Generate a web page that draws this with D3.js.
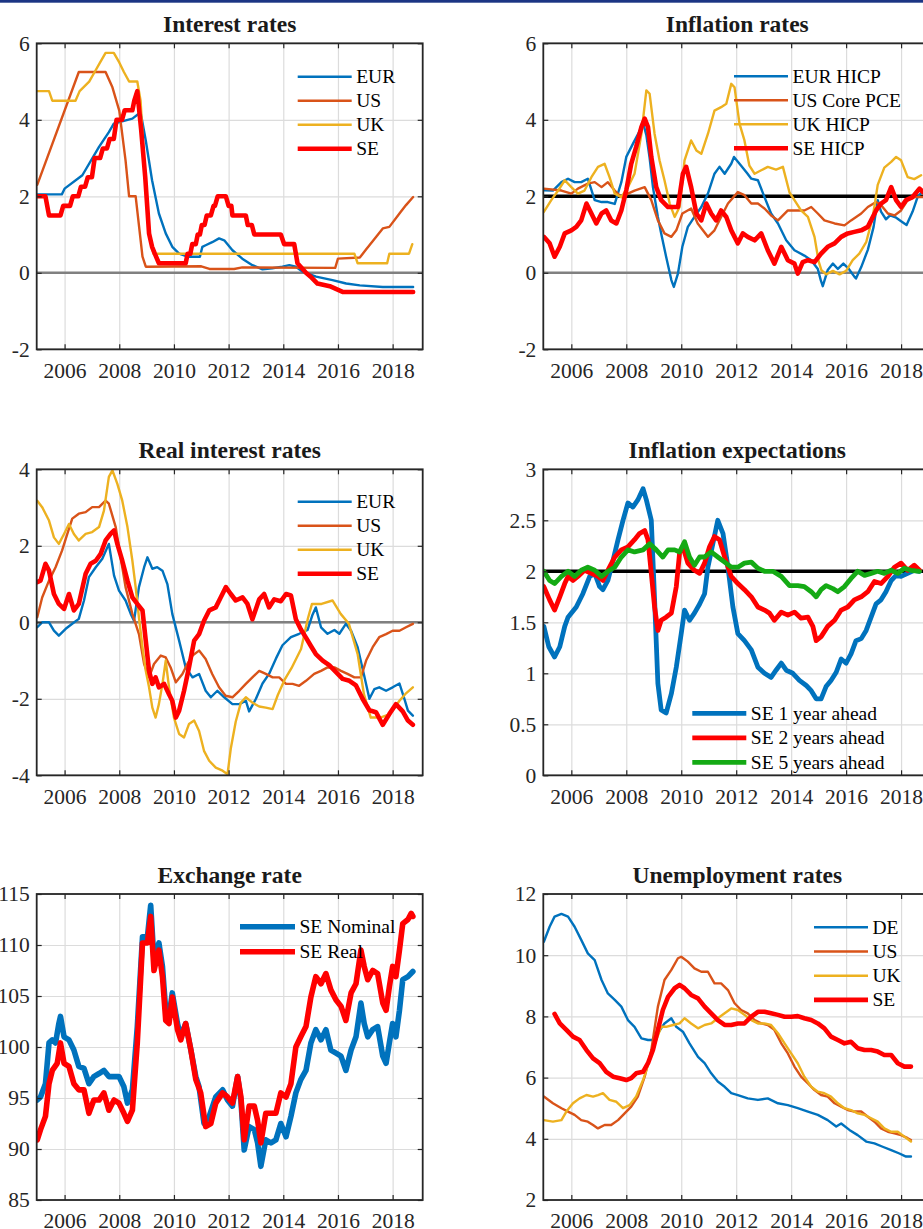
<!DOCTYPE html>
<html>
<head>
<meta charset="utf-8">
<script src="https://cdn.jsdelivr.net/npm/d3@7"></script>
<style>
  body { margin: 0; background: #fff; }
  svg { display: block; }
</style>
</head>
<body>
<svg id="chart" width="923" height="1229"></svg>
<script>
// ---- tick labels ----
var yearTicks = [2006, 2008, 2010, 2012, 2014, 2016, 2018];
var rateTicks = [-2, 0, 2, 4, 6];
var realTicks = [-4, -2, 0, 2, 4];
var expTicks = [0, 0.5, 1, 1.5, 2, 2.5, 3];
var fxTicks = [85, 90, 95, 100, 105, 110, 115];
var unTicks = [2, 4, 6, 8, 10, 12];

// ---- Interest rates ----
var irEUR = [[2005.0,2.05],[2005.9,2.05],[2006.0,2.2],[2006.65,2.55],[2007.26,3.29],[2007.62,3.68],[2007.8,3.9],[2008.0,3.94],[2008.48,4.03],[2008.7,4.15],[2008.78,4.2],[2008.97,3.46],[2009.2,2.42],[2009.45,1.55],[2009.7,1.03],[2009.94,0.68],[2010.19,0.5],[2010.5,0.42],[2010.95,0.42],[2011.04,0.68],[2011.16,0.72],[2011.4,0.8],[2011.65,0.9],[2011.84,0.85],[2012.14,0.59],[2012.5,0.37],[2012.87,0.2],[2013.24,0.09],[2013.6,0.12],[2013.97,0.16],[2014.22,0.2],[2014.46,0.16],[2014.7,0.03],[2015.2,-0.1],[2015.8,-0.19],[2016.3,-0.28],[2016.8,-0.33],[2017.64,-0.37],[2018.75,-0.37]];
var irUS = [[2005.0,2.3],[2006.52,5.25],[2007.5,5.25],[2007.75,4.85],[2008.0,4.24],[2008.23,2.94],[2008.36,2.0],[2008.6,2.0],[2008.85,0.42],[2008.97,0.16],[2011.0,0.17],[2011.3,0.1],[2012.2,0.1],[2012.5,0.14],[2015.9,0.13],[2016.0,0.37],[2016.8,0.4],[2017.02,0.6],[2017.4,0.94],[2017.64,1.16],[2017.88,1.2],[2018.25,1.55],[2018.49,1.77],[2018.75,1.98]];
var irUK = [[2005.0,4.75],[2005.43,4.75],[2005.55,4.5],[2006.4,4.5],[2006.55,4.75],[2006.9,5.0],[2007.1,5.25],[2007.3,5.5],[2007.5,5.75],[2007.8,5.75],[2008.0,5.5],[2008.17,5.25],[2008.36,5.0],[2008.66,5.0],[2008.78,4.5],[2008.9,3.0],[2009.0,2.0],[2009.1,1.0],[2009.25,0.5],[2016.6,0.5],[2016.72,0.25],[2017.8,0.25],[2017.88,0.5],[2018.6,0.5],[2018.72,0.75]];
var irSE = [[2005.0,2.0],[2005.3,2.0],[2005.43,1.5],[2005.85,1.5],[2005.95,1.75],[2006.2,1.75],[2006.3,2.0],[2006.5,2.0],[2006.6,2.25],[2006.75,2.25],[2006.85,2.5],[2007.0,2.5],[2007.1,3.0],[2007.3,3.0],[2007.4,3.25],[2007.55,3.25],[2007.65,3.5],[2007.8,3.5],[2007.9,4.0],[2008.1,4.0],[2008.2,4.25],[2008.48,4.25],[2008.55,4.5],[2008.66,4.75],[2008.8,3.75],[2008.95,2.5],[2009.09,1.03],[2009.2,0.68],[2009.3,0.5],[2009.45,0.25],[2010.43,0.25],[2010.5,0.5],[2010.6,0.5],[2010.67,0.75],[2010.8,0.75],[2010.87,1.0],[2010.95,1.0],[2011.02,1.25],[2011.12,1.25],[2011.2,1.5],[2011.35,1.5],[2011.45,1.75],[2011.5,1.75],[2011.6,2.0],[2011.9,2.0],[2012.0,1.75],[2012.1,1.75],[2012.14,1.5],[2012.63,1.5],[2012.7,1.25],[2012.85,1.25],[2012.94,1.0],[2013.91,1.0],[2014.03,0.75],[2014.4,0.75],[2014.52,0.25],[2014.83,0.0],[2015.0,-0.1],[2015.25,-0.28],[2015.7,-0.35],[2016.17,-0.5],[2018.75,-0.5]];

// ---- Inflation rates ----
var infEUR = [[2005.0,2.16],[2005.33,2.15],[2005.64,2.37],[2005.88,2.46],[2006.12,2.37],[2006.36,2.37],[2006.6,2.46],[2006.85,1.9],[2007.1,1.85],[2007.33,1.85],[2007.58,1.8],[2007.82,2.37],[2008.0,3.03],[2008.24,3.37],[2008.48,3.7],[2008.6,3.95],[2008.73,3.6],[2008.85,3.0],[2008.97,2.24],[2009.15,1.46],[2009.27,1.03],[2009.45,0.42],[2009.64,-0.19],[2009.73,-0.37],[2009.88,-0.02],[2010.04,0.68],[2010.24,1.2],[2010.48,1.46],[2010.73,1.72],[2010.97,2.07],[2011.21,2.59],[2011.39,2.77],[2011.58,2.59],[2011.82,2.85],[2011.92,3.03],[2012.18,2.8],[2012.4,2.6],[2012.55,2.46],[2012.79,2.42],[2013.03,1.98],[2013.27,1.55],[2013.52,1.29],[2013.82,0.85],[2014.12,0.59],[2014.48,0.45],[2014.73,0.33],[2014.97,0.1],[2015.08,-0.2],[2015.15,-0.35],[2015.33,0.07],[2015.52,0.24],[2015.7,0.1],[2015.9,0.24],[2016.1,0.1],[2016.3,-0.1],[2016.36,-0.15],[2016.55,0.15],[2016.79,0.6],[2017.0,1.2],[2017.15,1.9],[2017.27,1.6],[2017.45,1.4],[2017.6,1.5],[2017.8,1.45],[2018.0,1.35],[2018.2,1.25],[2018.42,1.6],[2018.6,1.98],[2018.8,2.15]];
var infUS = [[2005.0,2.2],[2005.64,2.15],[2006.0,2.07],[2006.24,2.2],[2006.6,2.33],[2006.85,2.37],[2007.1,2.24],[2007.33,2.37],[2007.58,2.15],[2007.82,1.98],[2008.06,2.07],[2008.3,2.15],[2008.67,2.24],[2008.91,1.9],[2009.15,1.37],[2009.39,1.03],[2009.64,0.94],[2009.82,1.11],[2010.04,1.55],[2010.36,1.68],[2010.6,1.29],[2010.97,0.94],[2011.21,1.11],[2011.45,1.46],[2011.7,1.81],[2012.06,2.11],[2012.3,2.03],[2012.55,1.81],[2012.79,1.81],[2013.03,1.68],[2013.27,1.5],[2013.52,1.37],[2013.88,1.63],[2014.12,1.63],[2014.48,1.63],[2014.73,1.72],[2014.97,1.55],[2015.21,1.37],[2015.58,1.29],[2015.94,1.24],[2016.18,1.37],[2016.55,1.55],[2016.79,1.72],[2017.09,1.85],[2017.27,1.77],[2017.52,1.55],[2017.76,1.5],[2018.0,1.63],[2018.24,1.9],[2018.48,1.98],[2018.8,1.98]];
var infUK = [[2005.0,1.59],[2005.27,1.9],[2005.52,2.15],[2005.76,2.42],[2006.0,2.24],[2006.24,2.07],[2006.48,2.15],[2006.73,2.5],[2006.97,2.77],[2007.21,2.85],[2007.39,2.5],[2007.58,2.07],[2007.82,1.98],[2008.06,2.24],[2008.3,2.59],[2008.55,3.63],[2008.73,4.77],[2008.85,4.68],[2009.03,3.63],[2009.21,2.94],[2009.39,2.42],[2009.58,1.81],[2009.76,1.46],[2009.94,1.72],[2010.12,2.94],[2010.36,3.46],[2010.55,3.2],[2010.73,3.11],[2010.97,3.63],[2011.21,4.24],[2011.45,4.33],[2011.64,4.42],[2011.82,4.94],[2011.94,4.85],[2012.12,3.9],[2012.3,3.46],[2012.48,2.8],[2012.67,2.59],[2012.91,2.68],[2013.15,2.77],[2013.45,2.7],[2013.7,2.77],[2013.94,2.1],[2014.12,1.9],[2014.36,1.63],[2014.61,1.46],[2014.85,0.94],[2015.0,0.3],[2015.1,0.07],[2015.27,-0.04],[2015.52,0.05],[2015.76,-0.04],[2016.0,0.05],[2016.24,0.33],[2016.48,0.5],[2016.73,0.8],[2016.97,1.46],[2017.15,2.3],[2017.39,2.75],[2017.64,2.9],[2017.82,3.03],[2018.0,2.94],[2018.24,2.5],[2018.48,2.45],[2018.73,2.55]];
var infSE = [[2005.0,0.94],[2005.21,0.77],[2005.39,0.42],[2005.58,0.68],[2005.76,1.03],[2006.0,1.11],[2006.18,1.2],[2006.36,1.37],[2006.55,1.81],[2006.73,1.55],[2006.91,1.29],[2007.1,1.55],[2007.27,1.63],[2007.45,1.37],[2007.64,1.29],[2007.82,1.63],[2008.0,2.16],[2008.18,2.85],[2008.36,3.29],[2008.55,3.81],[2008.67,4.03],[2008.79,3.81],[2008.91,3.03],[2009.09,2.24],[2009.27,1.9],[2009.52,1.72],[2009.88,1.72],[2010.06,2.59],[2010.18,2.77],[2010.36,2.24],[2010.55,1.55],[2010.73,1.37],[2010.91,1.81],[2011.09,1.55],[2011.27,1.37],[2011.45,1.63],[2011.64,1.46],[2011.82,1.11],[2012.06,0.77],[2012.24,1.03],[2012.42,0.94],[2012.67,0.85],[2012.91,1.03],[2013.15,0.59],[2013.39,0.24],[2013.64,0.68],[2013.88,0.33],[2014.12,0.24],[2014.24,-0.02],[2014.42,0.28],[2014.61,0.33],[2014.85,0.28],[2015.09,0.5],[2015.33,0.68],[2015.58,0.77],[2015.82,0.94],[2016.06,1.03],[2016.3,1.07],[2016.55,1.11],[2016.79,1.2],[2017.09,1.63],[2017.27,1.81],[2017.45,1.9],[2017.64,2.24],[2017.82,1.9],[2018.0,1.72],[2018.18,1.9],[2018.42,1.98],[2018.67,2.2],[2018.8,2.11]];

// ---- Real interest rates ----
var riEUR = [[2005.0,-0.13],[2005.18,0],[2005.43,0],[2005.61,-0.22],[2005.79,-0.35],[2006.04,-0.17],[2006.28,-0.04],[2006.52,0.09],[2006.71,0.57],[2006.89,1.18],[2007.14,1.44],[2007.38,1.66],[2007.62,2.05],[2007.81,1.22],[2007.99,0.83],[2008.23,0.57],[2008.42,0.22],[2008.54,0.04],[2008.72,0.92],[2008.91,1.44],[2009.03,1.7],[2009.21,1.4],[2009.39,1.44],[2009.58,1.35],[2009.76,1.0],[2009.94,0.22],[2010.19,-0.48],[2010.43,-1.18],[2010.68,-1.44],[2010.92,-1.35],[2011.16,-1.79],[2011.35,-1.96],[2011.59,-1.79],[2011.84,-1.96],[2012.14,-2.14],[2012.39,-2.14],[2012.63,-2.05],[2012.75,-2.33],[2013.0,-2.0],[2013.24,-1.6],[2013.48,-1.35],[2013.73,-0.95],[2013.97,-0.6],[2014.28,-0.39],[2014.58,-0.3],[2014.89,-0.2],[2015.07,0.2],[2015.19,0.39],[2015.38,-0.13],[2015.62,-0.3],[2015.87,-0.2],[2016.05,-0.3],[2016.29,-0.04],[2016.48,-0.22],[2016.72,-0.65],[2016.96,-1.4],[2017.15,-2.0],[2017.33,-1.75],[2017.51,-1.7],[2017.76,-1.79],[2018.0,-1.7],[2018.25,-1.6],[2018.43,-2.0],[2018.56,-2.31],[2018.74,-2.44]];
var riUS = [[2005.0,0.13],[2005.18,0.65],[2005.43,1.09],[2005.67,1.44],[2005.91,1.88],[2006.1,2.31],[2006.28,2.71],[2006.52,2.84],[2006.77,2.88],[2007.01,3.01],[2007.26,3.01],[2007.5,3.18],[2007.62,3.1],[2007.87,2.49],[2008.05,1.7],[2008.23,0.92],[2008.48,0.22],[2008.72,-0.31],[2008.91,-1.09],[2009.09,-1.44],[2009.27,-1.09],[2009.52,-0.87],[2009.7,-0.92],[2009.88,-1.18],[2010.07,-1.57],[2010.31,-1.35],[2010.49,-1.09],[2010.68,-0.87],[2010.92,-0.74],[2011.16,-0.96],[2011.4,-1.35],[2011.65,-1.7],[2011.89,-1.92],[2012.14,-1.96],[2012.39,-1.79],[2012.63,-1.61],[2012.87,-1.44],[2013.12,-1.27],[2013.36,-1.35],[2013.61,-1.44],[2013.85,-1.44],[2014.1,-1.61],[2014.34,-1.61],[2014.58,-1.66],[2014.83,-1.53],[2015.13,-1.35],[2015.38,-1.27],[2015.62,-1.18],[2015.87,-1.18],[2016.11,-1.27],[2016.35,-1.35],[2016.6,-1.44],[2016.84,-1.44],[2017.03,-1.0],[2017.27,-0.65],[2017.51,-0.39],[2017.76,-0.31],[2018.0,-0.22],[2018.25,-0.22],[2018.49,-0.13],[2018.74,-0.04]];
var riUK = [[2005.0,3.18],[2005.18,3.01],[2005.43,2.66],[2005.61,2.22],[2005.79,2.05],[2005.98,2.31],[2006.16,2.57],[2006.34,2.31],[2006.52,2.14],[2006.77,2.31],[2007.01,2.36],[2007.26,2.49],[2007.44,2.92],[2007.62,3.8],[2007.75,3.97],[2007.93,3.62],[2008.11,3.18],[2008.3,2.49],[2008.48,1.61],[2008.6,0.92],[2008.72,0.13],[2008.85,-0.65],[2008.97,-1.27],[2009.09,-1.7],[2009.21,-2.23],[2009.33,-2.49],[2009.45,-2.14],[2009.58,-1.61],[2009.7,-1.0],[2009.82,-1.7],[2010.0,-2.49],[2010.19,-2.92],[2010.37,-3.01],[2010.55,-2.66],[2010.74,-2.57],[2010.92,-2.84],[2011.1,-3.36],[2011.29,-3.62],[2011.53,-3.8],[2011.78,-3.88],[2011.96,-3.97],[2012.08,-3.3],[2012.26,-2.6],[2012.45,-2.1],[2012.63,-1.96],[2012.87,-2.1],[2013.12,-2.2],[2013.36,-2.23],[2013.61,-2.27],[2013.8,-1.9],[2014.05,-1.5],[2014.3,-1.2],[2014.65,-0.7],[2014.9,0.1],[2015.05,0.48],[2015.4,0.48],[2015.8,0.57],[2016.1,0.22],[2016.4,-0.04],[2016.72,-0.83],[2016.95,-1.88],[2017.2,-2.49],[2017.55,-2.49],[2017.9,-2.4],[2018.25,-2.05],[2018.5,-1.85],[2018.74,-1.7]];
var riSE = [[2005.0,1.05],[2005.12,1.09],[2005.3,1.53],[2005.43,1.35],[2005.61,0.74],[2005.79,0.48],[2005.98,0.35],[2006.16,0.74],[2006.34,0.31],[2006.52,0.48],[2006.77,1.27],[2006.95,1.53],[2007.14,1.61],[2007.32,1.79],[2007.5,2.14],[2007.68,2.31],[2007.81,2.4],[2007.93,2.05],[2008.11,1.61],[2008.3,1.09],[2008.48,0.65],[2008.66,0.48],[2008.85,0.31],[2008.97,-0.48],[2009.09,-1.27],[2009.21,-1.61],[2009.33,-1.44],[2009.45,-1.7],[2009.64,-1.61],[2009.82,-1.88],[2009.94,-2.05],[2010.07,-2.49],[2010.19,-2.31],[2010.37,-1.79],[2010.55,-1.18],[2010.74,-0.48],[2010.92,-0.31],[2011.1,0.04],[2011.29,0.31],[2011.53,0.39],[2011.71,0.65],[2011.9,0.92],[2012.08,0.74],[2012.26,0.57],[2012.51,0.65],[2012.69,0.48],[2012.87,0.08],[2013.12,0.6],[2013.3,0.74],[2013.48,0.39],[2013.67,0.6],[2013.91,0.55],[2014.1,0.74],[2014.28,0.7],[2014.46,0.08],[2014.64,-0.18],[2014.83,-0.4],[2015.01,-0.62],[2015.19,-0.83],[2015.44,-1.0],[2015.68,-1.12],[2015.93,-1.3],[2016.17,-1.48],[2016.42,-1.53],[2016.66,-1.65],[2016.9,-2.0],[2017.15,-2.3],[2017.39,-2.35],[2017.64,-2.68],[2017.88,-2.4],[2018.12,-2.14],[2018.37,-2.33],[2018.56,-2.57],[2018.74,-2.68]];

// ---- Inflation expectations ----
var exp1 = [[2005.0,1.46],[2005.18,1.26],[2005.39,1.16],[2005.58,1.26],[2005.76,1.46],[2005.88,1.55],[2006.18,1.65],[2006.42,1.78],[2006.67,1.95],[2006.85,1.98],[2007.03,1.85],[2007.15,1.82],[2007.33,1.91],[2007.52,2.11],[2007.7,2.31],[2007.88,2.5],[2008.06,2.67],[2008.24,2.63],[2008.42,2.7],[2008.61,2.81],[2008.73,2.7],[2008.91,2.5],[2009.03,1.72],[2009.15,0.9],[2009.27,0.64],[2009.45,0.61],[2009.64,0.8],[2009.82,1.06],[2010.0,1.39],[2010.12,1.62],[2010.3,1.52],[2010.48,1.59],[2010.67,1.68],[2010.85,1.78],[2010.97,2.04],[2011.15,2.27],[2011.33,2.5],[2011.52,2.37],[2011.7,2.04],[2011.88,1.65],[2012.06,1.39],[2012.3,1.32],[2012.55,1.23],[2012.79,1.06],[2013.03,1.0],[2013.27,0.96],[2013.45,1.03],[2013.64,1.1],[2013.82,1.03],[2014.06,1.0],[2014.3,0.93],[2014.55,0.88],[2014.73,0.83],[2014.91,0.75],[2015.09,0.75],[2015.27,0.87],[2015.45,0.93],[2015.64,1.01],[2015.82,1.14],[2016.0,1.1],[2016.18,1.19],[2016.36,1.32],[2016.55,1.34],[2016.73,1.42],[2016.91,1.55],[2017.09,1.68],[2017.27,1.72],[2017.45,1.8],[2017.64,1.91],[2017.82,1.96],[2018.0,1.95],[2018.24,1.98],[2018.48,2.01],[2018.67,2.0]];
var exp2 = [[2005.0,1.85],[2005.21,1.72],[2005.39,1.62],[2005.58,1.75],[2005.76,1.88],[2005.88,1.95],[2006.06,1.91],[2006.24,1.95],[2006.48,2.01],[2006.73,1.98],[2006.97,1.95],[2007.15,1.91],[2007.33,2.01],[2007.58,2.14],[2007.82,2.21],[2008.06,2.24],[2008.3,2.31],[2008.48,2.37],[2008.67,2.4],[2008.79,2.31],[2008.91,1.98],[2009.03,1.65],[2009.15,1.42],[2009.27,1.52],[2009.45,1.55],[2009.64,1.59],[2009.82,1.85],[2009.94,2.18],[2010.06,2.24],[2010.24,2.08],[2010.48,2.01],[2010.67,1.98],[2010.85,2.08],[2011.03,2.24],[2011.21,2.34],[2011.39,2.31],[2011.58,2.14],[2011.82,1.95],[2012.06,1.88],[2012.3,1.82],[2012.55,1.75],[2012.79,1.65],[2013.03,1.62],[2013.21,1.59],[2013.39,1.52],[2013.64,1.6],[2013.88,1.57],[2014.12,1.6],[2014.36,1.54],[2014.61,1.55],[2014.79,1.46],[2014.91,1.32],[2015.09,1.36],[2015.33,1.46],[2015.58,1.52],[2015.82,1.62],[2016.06,1.65],[2016.3,1.72],[2016.55,1.75],[2016.79,1.8],[2017.03,1.9],[2017.27,1.88],[2017.52,1.95],[2017.76,2.04],[2018.0,2.08],[2018.24,2.01],[2018.48,2.06],[2018.67,2.01]];
var exp5 = [[2005.0,2.0],[2005.21,1.91],[2005.39,1.88],[2005.64,1.95],[2005.88,2.0],[2006.12,1.95],[2006.36,2.01],[2006.6,2.04],[2006.85,2.01],[2007.1,1.95],[2007.33,2.0],[2007.58,2.04],[2007.82,2.14],[2008.06,2.21],[2008.3,2.19],[2008.61,2.21],[2008.85,2.27],[2009.09,2.21],[2009.33,2.14],[2009.52,2.21],[2009.76,2.21],[2009.94,2.19],[2010.12,2.29],[2010.3,2.14],[2010.48,2.06],[2010.67,2.14],[2010.85,2.14],[2011.09,2.19],[2011.33,2.14],[2011.58,2.09],[2011.82,2.04],[2012.06,2.04],[2012.3,2.08],[2012.55,2.09],[2012.79,2.03],[2013.03,2.0],[2013.33,2.0],[2013.64,1.95],[2013.94,1.86],[2014.24,1.86],[2014.48,1.85],[2014.73,1.8],[2014.91,1.75],[2015.09,1.82],[2015.27,1.86],[2015.52,1.83],[2015.7,1.8],[2015.94,1.85],[2016.18,1.93],[2016.42,2.0],[2016.67,1.96],[2016.91,1.98],[2017.15,2.0],[2017.39,1.98],[2017.64,2.01],[2017.88,1.98],[2018.12,2.03],[2018.36,2.01],[2018.67,2.0]];

// ---- Exchange rate ----
var fxNominal = [[2005.0,94.8],[2005.12,95.1],[2005.3,96.4],[2005.43,100.4],[2005.55,100.7],[2005.67,100.4],[2005.79,102.3],[2005.85,103.0],[2005.98,101.0],[2006.16,100.7],[2006.34,99.7],[2006.52,98.1],[2006.71,97.9],[2006.89,96.4],[2007.07,97.1],[2007.26,97.4],[2007.44,97.7],[2007.62,97.1],[2007.81,97.1],[2007.99,97.1],[2008.17,96.1],[2008.3,94.5],[2008.48,95.8],[2008.66,102.0],[2008.85,110.8],[2009.03,110.8],[2009.15,113.9],[2009.27,108.5],[2009.45,110.2],[2009.58,107.9],[2009.7,103.6],[2009.82,103.0],[2009.94,105.3],[2010.13,102.3],[2010.25,101.0],[2010.43,102.3],[2010.62,99.7],[2010.8,97.1],[2010.92,96.1],[2011.1,92.5],[2011.29,93.2],[2011.53,95.1],[2011.78,95.8],[2011.96,94.8],[2012.14,94.2],[2012.33,97.1],[2012.45,94.8],[2012.57,89.9],[2012.75,92.2],[2012.94,91.9],[2013.06,90.6],[2013.18,88.3],[2013.36,90.9],[2013.55,90.6],[2013.73,90.9],[2013.91,92.5],[2014.1,91.2],[2014.28,93.2],[2014.46,95.5],[2014.64,96.8],[2014.83,97.7],[2015.01,100.4],[2015.19,101.7],[2015.38,100.7],[2015.56,101.7],[2015.74,99.7],[2015.93,99.4],[2016.11,99.1],[2016.29,97.7],[2016.48,99.7],[2016.66,101.0],[2016.84,104.3],[2016.96,102.3],[2017.09,101.0],[2017.27,101.7],[2017.45,102.0],[2017.64,99.1],[2017.76,98.4],[2017.88,100.4],[2018.0,102.3],[2018.12,101.0],[2018.25,103.6],[2018.37,106.6],[2018.56,106.9],[2018.74,107.4]];
var fxReal = [[2005.0,90.9],[2005.12,91.9],[2005.3,93.2],[2005.43,96.4],[2005.55,97.7],[2005.73,98.4],[2005.85,100.4],[2005.98,98.4],[2006.16,98.1],[2006.34,96.4],[2006.52,95.8],[2006.71,95.8],[2006.89,93.5],[2007.07,94.8],[2007.26,94.8],[2007.44,95.5],[2007.62,93.8],[2007.81,94.8],[2007.99,94.5],[2008.17,93.5],[2008.3,92.7],[2008.48,93.8],[2008.66,100.4],[2008.85,110.2],[2009.03,110.2],[2009.15,112.8],[2009.27,107.5],[2009.45,109.5],[2009.58,106.9],[2009.7,102.6],[2009.82,102.3],[2009.94,104.9],[2010.13,101.7],[2010.25,100.7],[2010.43,102.3],[2010.62,99.7],[2010.8,96.8],[2010.98,95.5],[2011.16,92.2],[2011.35,92.5],[2011.53,94.5],[2011.78,95.5],[2011.96,95.1],[2012.14,94.5],[2012.33,97.1],[2012.45,95.1],[2012.57,90.9],[2012.75,94.2],[2012.94,94.2],[2013.06,92.8],[2013.18,90.6],[2013.36,93.5],[2013.55,93.5],[2013.73,93.5],[2013.91,95.5],[2014.1,95.1],[2014.28,96.4],[2014.46,100.0],[2014.64,101.0],[2014.83,102.0],[2015.01,104.9],[2015.19,106.9],[2015.38,106.2],[2015.56,107.2],[2015.74,105.6],[2015.93,104.6],[2016.11,104.0],[2016.29,102.6],[2016.48,105.3],[2016.66,106.2],[2016.84,109.5],[2016.96,107.9],[2017.09,106.6],[2017.27,107.5],[2017.45,107.2],[2017.64,104.3],[2017.76,103.6],[2017.88,105.9],[2018.0,107.9],[2018.12,106.9],[2018.25,109.5],[2018.37,112.1],[2018.56,112.5],[2018.68,113.1],[2018.74,112.8]];

// ---- Unemployment rates ----
var unDE = [[2005.0,10.44],[2005.21,10.93],[2005.39,11.26],[2005.64,11.35],[2005.88,11.26],[2006.12,10.93],[2006.36,10.5],[2006.6,10.06],[2006.85,9.84],[2007.1,9.19],[2007.33,8.75],[2007.58,8.54],[2007.82,8.32],[2008.06,7.88],[2008.3,7.66],[2008.55,7.28],[2008.79,7.23],[2008.97,7.23],[2009.15,7.45],[2009.39,7.77],[2009.64,7.94],[2009.82,7.66],[2010.06,7.5],[2010.3,7.12],[2010.61,6.68],[2010.85,6.47],[2011.09,6.14],[2011.33,5.87],[2011.58,5.7],[2011.82,5.49],[2012.06,5.43],[2012.42,5.32],[2012.79,5.27],[2013.15,5.32],[2013.52,5.16],[2013.88,5.1],[2014.24,5.0],[2014.61,4.89],[2014.97,4.78],[2015.33,4.61],[2015.64,4.4],[2015.82,4.5],[2016.12,4.29],[2016.42,4.12],[2016.73,3.91],[2017.03,3.85],[2017.33,3.74],[2017.64,3.63],[2017.94,3.52],[2018.18,3.42],[2018.36,3.42]];
var unUS = [[2005.0,5.38],[2005.33,5.16],[2005.64,5.0],[2005.88,4.89],[2006.12,4.78],[2006.36,4.61],[2006.6,4.56],[2006.79,4.45],[2006.97,4.34],[2007.21,4.45],[2007.45,4.45],[2007.7,4.61],[2007.94,4.83],[2008.18,5.05],[2008.42,5.38],[2008.67,6.03],[2008.91,6.9],[2009.15,8.32],[2009.39,9.19],[2009.64,9.52],[2009.88,9.9],[2010.0,9.95],[2010.24,9.79],[2010.48,9.57],[2010.73,9.46],[2010.97,9.46],[2011.21,9.08],[2011.45,9.08],[2011.7,8.86],[2011.94,8.43],[2012.18,8.21],[2012.42,8.1],[2012.67,7.88],[2012.91,7.77],[2013.15,7.72],[2013.39,7.56],[2013.64,7.12],[2013.88,6.79],[2014.12,6.36],[2014.36,6.03],[2014.61,5.81],[2014.85,5.59],[2015.09,5.43],[2015.33,5.38],[2015.58,5.16],[2015.82,5.05],[2016.06,4.94],[2016.3,4.89],[2016.55,4.89],[2016.79,4.72],[2017.03,4.56],[2017.27,4.34],[2017.52,4.23],[2017.76,4.18],[2018.0,4.12],[2018.24,4.02],[2018.36,3.96]];
var unUK = [[2005.0,4.61],[2005.33,4.56],[2005.64,4.61],[2005.82,4.89],[2006.06,5.16],[2006.3,5.32],[2006.55,5.43],[2006.79,5.38],[2006.97,5.43],[2007.15,5.49],[2007.39,5.27],[2007.64,5.21],[2007.88,5.0],[2008.12,5.1],[2008.36,5.38],[2008.61,5.92],[2008.85,6.58],[2009.09,7.23],[2009.27,7.66],[2009.45,7.66],[2009.7,7.72],[2009.94,7.77],[2010.12,7.94],[2010.36,7.77],[2010.61,7.61],[2010.85,7.72],[2011.09,7.77],[2011.33,7.94],[2011.58,8.1],[2011.82,8.26],[2012.06,8.21],[2012.3,8.05],[2012.55,7.88],[2012.79,7.77],[2013.03,7.77],[2013.27,7.72],[2013.52,7.45],[2013.76,7.12],[2014.0,6.79],[2014.24,6.47],[2014.48,6.03],[2014.73,5.7],[2014.97,5.54],[2015.21,5.49],[2015.45,5.38],[2015.7,5.16],[2015.94,5.0],[2016.18,4.94],[2016.42,4.83],[2016.67,4.78],[2016.91,4.67],[2017.15,4.56],[2017.39,4.34],[2017.64,4.23],[2017.88,4.23],[2018.12,4.07],[2018.36,3.91]];
var unSE = [[2005.39,8.08],[2005.58,7.77],[2005.82,7.56],[2006.06,7.34],[2006.3,7.23],[2006.55,6.9],[2006.79,6.63],[2007.03,6.47],[2007.27,6.19],[2007.52,6.03],[2007.76,5.98],[2008.0,5.92],[2008.18,5.98],[2008.36,6.14],[2008.61,6.19],[2008.79,6.47],[2008.97,6.9],[2009.15,7.56],[2009.33,8.21],[2009.52,8.64],[2009.76,8.92],[2009.94,9.03],[2010.12,8.92],[2010.36,8.7],[2010.61,8.59],[2010.85,8.32],[2011.09,8.1],[2011.33,7.88],[2011.58,7.72],[2011.82,7.72],[2012.06,7.77],[2012.3,7.77],[2012.55,7.99],[2012.79,8.15],[2013.03,8.15],[2013.27,8.1],[2013.52,8.05],[2013.76,7.99],[2014.0,7.99],[2014.24,8.01],[2014.48,7.94],[2014.73,7.88],[2014.97,7.77],[2015.21,7.61],[2015.45,7.34],[2015.7,7.23],[2015.94,7.12],[2016.18,7.17],[2016.42,6.96],[2016.67,6.9],[2016.91,6.9],[2017.15,6.85],[2017.39,6.74],[2017.64,6.74],[2017.88,6.47],[2018.12,6.36],[2018.36,6.36]];

var BLUE = '#0072BD', ORANGE = '#D95319', YELLOW = '#EDB120', RED = '#FF0000', GREEN = '#14AA14';
var FONT = '"Liberation Serif", "Times New Roman", serif';
var xDomain = [2004.98, 2019.1];
var panelH = 306;

var svg = d3.select('#chart');
svg.append('rect').attr('x', 0).attr('y', 0).attr('width', 923).attr('height', 2.7).attr('fill', '#1b3584');

var panels = [
  {title: 'Interest rates', x: 36.7, y: 43.3, w: 386, yDomain: [-2, 6], yTicks: rateTicks, zero: 0,
   series: [
     {data: irEUR, color: BLUE, width: 2.4, label: 'EUR'},
     {data: irUS, color: ORANGE, width: 2.4, label: 'US'},
     {data: irUK, color: YELLOW, width: 2.4, label: 'UK'},
     {data: irSE, color: RED, width: 4.6, label: 'SE'}],
   legend: {x: 261, y: 33.4, dy: 24, len: 54}},
  {title: 'Inflation rates', x: 543.3, y: 43.3, w: 388, yDomain: [-2, 6], yTicks: rateTicks, zero: 0, target: 2,
   series: [
     {data: infEUR, color: BLUE, width: 2.4, label: 'EUR HICP'},
     {data: infUS, color: ORANGE, width: 2.4, label: 'US Core PCE'},
     {data: infUK, color: YELLOW, width: 2.4, label: 'UK HICP'},
     {data: infSE, color: RED, width: 4.6, label: 'SE HICP'}],
   legend: {x: 190.7, y: 33, dy: 24, len: 54}},
  {title: 'Real interest rates', x: 36.7, y: 469.3, w: 386, yDomain: [-4, 4], yTicks: realTicks, zero: 0,
   series: [
     {data: riEUR, color: BLUE, width: 2.4, label: 'EUR'},
     {data: riUS, color: ORANGE, width: 2.4, label: 'US'},
     {data: riUK, color: YELLOW, width: 2.4, label: 'UK'},
     {data: riSE, color: RED, width: 4.6, label: 'SE'}],
   legend: {x: 261, y: 32.4, dy: 24, len: 54}},
  {title: 'Inflation expectations', x: 543.3, y: 469.3, w: 388, yDomain: [0, 3], yTicks: expTicks, target: 2,
   series: [
     {data: exp1, color: BLUE, width: 4.8, label: 'SE 1 year ahead'},
     {data: exp2, color: RED, width: 4.8, label: 'SE 2 years ahead'},
     {data: exp5, color: GREEN, width: 4.8, label: 'SE 5 years ahead'}],
   legend: {x: 149, y: 244, dy: 24.5, len: 54}},
  {title: 'Exchange rate', x: 36.7, y: 894, w: 386, yDomain: [85, 115], yTicks: fxTicks,
   series: [
     {data: fxNominal, color: BLUE, width: 5.6, label: 'SE Nominal'},
     {data: fxReal, color: RED, width: 5.6, label: 'SE Real'}],
   legend: {x: 203.3, y: 32.7, dy: 25, len: 55}},
  {title: 'Unemployment rates', x: 543.3, y: 894, w: 388, yDomain: [2, 12], yTicks: unTicks,
   series: [
     {data: unDE, color: BLUE, width: 2.4, label: 'DE'},
     {data: unUS, color: ORANGE, width: 2.4, label: 'US'},
     {data: unUK, color: YELLOW, width: 2.4, label: 'UK'},
     {data: unSE, color: RED, width: 4.6, label: 'SE'}],
   legend: {x: 270.7, y: 33.3, dy: 24.2, len: 54}}
];

function styleAxis(sel) {
  sel.select('.domain').remove();
  sel.attr('font-family', FONT).attr('font-size', 21.5);
  sel.selectAll('line').attr('stroke', '#262626').attr('stroke-width', 1.2);
  sel.selectAll('text').attr('fill', '#262626');
}

panels.forEach(function(p, i) {
  var g = svg.append('g').attr('transform', 'translate(' + p.x + ',' + p.y + ')');
  var x = d3.scaleLinear().domain(xDomain).range([0, p.w]);
  var y = d3.scaleLinear().domain(p.yDomain).range([panelH, 0]);

  g.append('clipPath').attr('id', 'clip' + i)
    .append('rect').attr('width', p.w).attr('height', panelH);

  // grid
  var gx = g.append('g').attr('transform', 'translate(0,' + panelH + ')')
    .call(d3.axisBottom(x).tickValues(yearTicks).tickSize(-panelH).tickFormat(''));
  var gy = g.append('g')
    .call(d3.axisLeft(y).tickValues(p.yTicks).tickSize(-p.w).tickFormat(''));
  [gx, gy].forEach(function(s) {
    s.select('.domain').remove();
    s.selectAll('line').attr('stroke', '#dcdcdc').attr('stroke-width', 1.2);
  });

  var plot = g.append('g').attr('clip-path', 'url(#clip' + i + ')');

  if (p.zero !== undefined) {
    plot.append('line').attr('x1', 0).attr('x2', p.w)
      .attr('y1', y(p.zero)).attr('y2', y(p.zero))
      .attr('stroke', '#808080').attr('stroke-width', 2.6);
  }
  if (p.target !== undefined) {
    plot.append('line').attr('x1', 0).attr('x2', p.w)
      .attr('y1', y(p.target)).attr('y2', y(p.target))
      .attr('stroke', '#000').attr('stroke-width', 3.4);
  }

  var line = d3.line().x(function(d) { return x(d[0]); }).y(function(d) { return y(d[1]); });
  p.series.forEach(function(s) {
    plot.append('path').datum(s.data)
      .attr('d', line)
      .attr('fill', 'none')
      .attr('stroke', s.color)
      .attr('stroke-width', s.width)
      .attr('stroke-linejoin', 'round')
      .attr('stroke-linecap', 'round');
  });

  // axes with inward ticks (box style)
  g.append('g').attr('transform', 'translate(0,' + panelH + ')')
    .call(d3.axisBottom(x).tickValues(yearTicks).tickSize(-5).tickPadding(13).tickFormat(d3.format('d')))
    .call(styleAxis);
  g.append('g')
    .call(d3.axisTop(x).tickValues(yearTicks).tickSize(-5).tickFormat(''))
    .call(styleAxis);
  g.append('g')
    .call(d3.axisLeft(y).tickValues(p.yTicks).tickSize(-5).tickPadding(7).tickFormat(function(d) { return String(d); }))
    .call(styleAxis);
  g.append('g').attr('transform', 'translate(' + p.w + ',0)')
    .call(d3.axisRight(y).tickValues(p.yTicks).tickSize(-5).tickFormat(''))
    .call(styleAxis);

  g.append('rect').attr('width', p.w).attr('height', panelH)
    .attr('fill', 'none').attr('stroke', '#262626').attr('stroke-width', 1.8);

  // legend
  var lg = g.append('g');
  p.series.forEach(function(s, k) {
    var ly = p.legend.y + k * p.legend.dy;
    lg.append('line')
      .attr('x1', p.legend.x).attr('x2', p.legend.x + p.legend.len)
      .attr('y1', ly).attr('y2', ly)
      .attr('stroke', s.color).attr('stroke-width', s.width);
    lg.append('text')
      .attr('x', p.legend.x + p.legend.len + 4.5).attr('y', ly)
      .attr('dy', '0.33em')
      .attr('font-family', FONT).attr('font-size', 19.5)
      .attr('fill', '#000')
      .text(s.label);
  });

  // title
  g.append('text')
    .attr('x', p.w / 2).attr('y', -11.5)
    .attr('text-anchor', 'middle')
    .attr('font-family', FONT).attr('font-size', 23.5).attr('font-weight', 'bold')
    .attr('fill', '#1a1a1a')
    .text(p.title);
});
</script>
</body>
</html>
